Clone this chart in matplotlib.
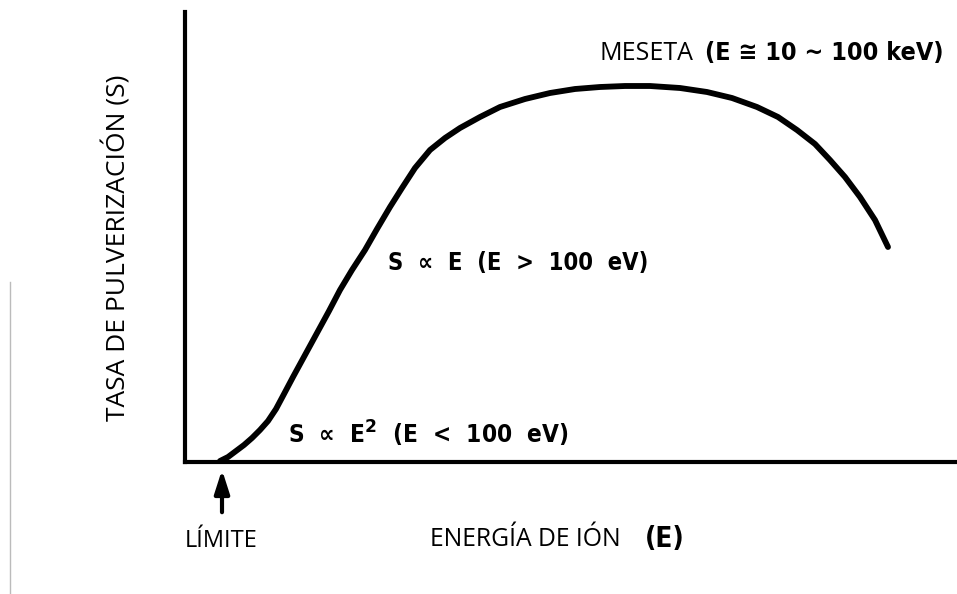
import matplotlib
matplotlib.use('Agg')
import matplotlib.pyplot as plt

# curve (arbitrary units, origin at axes corner)
energia = [35, 43, 51, 59, 67, 75, 83, 91, 99, 108, 120, 132, 144, 155, 167,
           180, 192, 205, 217, 230, 245, 260, 275, 295, 315, 340, 365, 390,
           415, 440, 465, 495, 522, 547, 572, 593, 612, 630, 645, 660, 675,
           690, 703]
tasa = [1, 5, 11, 17, 24, 32, 41, 53, 68, 85, 107, 129, 151, 172, 192,
        212, 233, 255, 274, 294, 312, 324, 334, 345, 355, 363, 369, 373,
        375, 376, 376, 374, 370, 364, 355, 345, 332, 318, 302, 285, 265,
        242, 215]

limite_e = 37
xlabel = 'ENERGÍA DE IÓN'
ylabel = 'TASA DE PULVERIZACIÓN (S)'

light = 'Open Sans'
plot_font = dict(family='DejaVu Sans', weight='bold', stretch='condensed')

fig = plt.figure(figsize=(9.57, 5.94), dpi=100)
ax = fig.add_axes([185/957, 132/594, 772/957, 450/594])
ax.set_xlim(0, 772)
ax.set_ylim(0, 450)

ax.plot(energia, tasa, color='black', lw=4.2, solid_capstyle='round',
        solid_joinstyle='round', clip_on=False)

for s in ['top', 'right']:
    ax.spines[s].set_visible(False)
for s in ['left', 'bottom']:
    ax.spines[s].set_linewidth(3)
    ax.spines[s].set_capstyle('projecting')
ax.set_xticks([])
ax.set_yticks([])

# arrow marking the threshold
ax.annotate('', xy=(limite_e, -5), xytext=(limite_e, -53),
            arrowprops=dict(arrowstyle='-|>,head_length=1.4,head_width=0.45',
                            color='black', lw=3), annotation_clip=False)

fig.text(185/957, 1 - 541/594, 'LÍMITE', family=light, fontsize=17,
         ha='left', va='center')
fig.text(430/957, 1 - 540/594, xlabel, family=light, fontsize=17.8,
         ha='left', va='center')
fig.text(645/957, 1 - 539/594, '(E)', fontsize=20, ha='left', va='center',
         **plot_font)
fig.text(117/957, 1 - 248/594, ylabel, family=light, fontsize=19,
         rotation=90, ha='center', va='center')

fig.text(600/957, 1 - 53/594, 'MESETA', family=light, fontsize=18,
         ha='left', va='center')
fig.text(705/957, 1 - 53/594, '(E ≅ 10 ∼ 100 keV)', fontsize=18,
         ha='left', va='center', **plot_font)
fig.text(388/957, 1 - 263/594, 'S  ∝  E  (E  >  100  eV)', fontsize=17,
         ha='left', va='center', **plot_font)
fig.text(288/957, 1 - 434/594, r'S  ∝  E$^{\mathbf{2}}$  (E  <  100  eV)',
         fontsize=17.5, ha='left', va='center', **plot_font)

# faint scan edge on the left
fig.add_artist(plt.Line2D([10/957, 10/957], [0, 1 - 282/594], color='#bbbbbb', lw=1))

fig.savefig('out.png', dpi=100, facecolor='white')
